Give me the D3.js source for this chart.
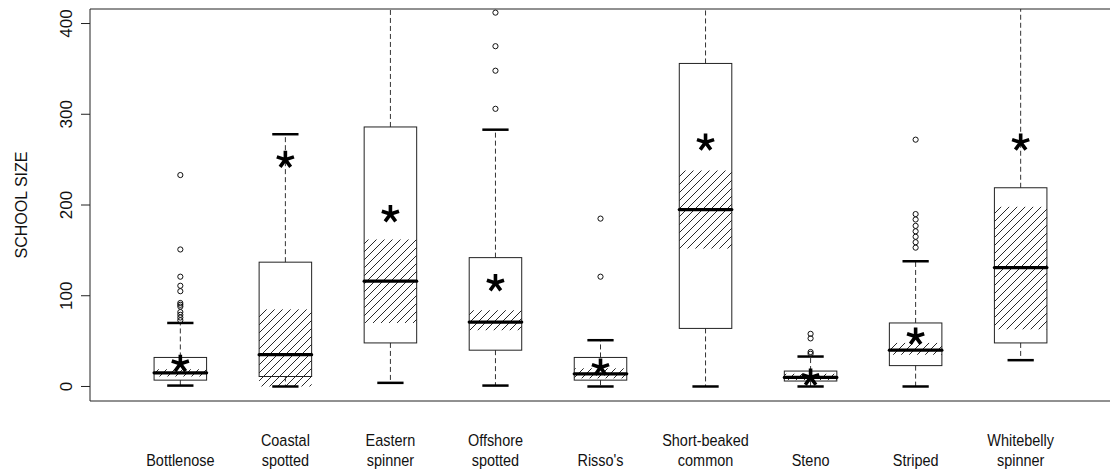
<!DOCTYPE html>
<html>
<head>
<meta charset="utf-8">
<script src="https://cdn.jsdelivr.net/npm/d3@7"></script>
<style>
  html, body { margin: 0; padding: 0; background: #fff; }
  svg { display: block; font-family: "Liberation Sans", Arial, Helvetica, sans-serif; }
</style>
</head>
<body>
<svg id="chart" width="1110" height="472"></svg>
<script>
// Dolphin school sizes by species: box statistics, hatched interval, mean and outliers
const categories = ["Bottlenose", "Coastal\nspotted", "Eastern\nspinner", "Offshore\nspotted",
  "Risso's", "Short-beaked\ncommon", "Steno", "Striped", "Whitebelly\nspinner"];
const lowerWhisker = [1, 0, 4, 1, 0, 0, 0, 0, 29];
const q1 = [7, 11, 48, 40, 7, 64, 6, 23, 48];
const median = [15, 35, 116, 71, 14, 195, 10, 40, 131];
const q3 = [32, 137, 286, 142, 32, 356, 17, 70, 219];
const upperWhisker = [70, 278, 460, 283, 51, 480, 33, 138, 470];
const hatchLow = [11, 0, 70, 62, 9, 152, 7, 35, 63];
const hatchHigh = [19, 85, 162, 84, 20, 238, 14, 48, 198];
const means = [25, 250, 190, 114, 21, 269, 10, 55, 269];
const outliers = [
  [233, 151, 121, 111, 105, 92, 90, 88, 82, 79, 76, 73],
  [],
  [],
  [412, 375, 348, 306],
  [185, 121],
  [],
  [58, 53, 38, 36],
  [272, 190, 184, 177, 171, 165, 159, 153],
  []
];
const yTicks = [0, 100, 200, 300, 400];
const yTitle = "SCHOOL SIZE";

const svg = d3.select("#chart");
const plot = { left: 90, right: 1111, top: 9, bottom: 401 };

const x = d3.scaleLinear().domain([0.14, categories.length + 0.86]).range([plot.left, plot.right]);
const y = d3.scaleLinear().domain([-16, 416]).range([plot.bottom, plot.top]);
const boxW = (x(2) - x(1)) * 0.5;
const capW = boxW / 2;

// hatching pattern
const defs = svg.append("defs");
const hs = 8;
defs.append("pattern")
  .attr("id", "hatch")
  .attr("patternUnits", "userSpaceOnUse")
  .attr("width", hs).attr("height", hs)
  .append("path")
  .attr("d", `M-1,1 l2,-2 M0,${hs} l${hs},-${hs} M${hs - 1},${hs + 1} l2,-2`)
  .attr("stroke", "#111").attr("stroke-width", 0.9);

defs.append("clipPath").attr("id", "plotclip")
  .append("rect")
  .attr("x", plot.left).attr("y", plot.top)
  .attr("width", plot.right - plot.left).attr("height", plot.bottom - plot.top);

const g = svg.append("g").attr("clip-path", "url(#plotclip)");
const idx = d3.range(categories.length);
const cx = i => x(i + 1);

// hatched interval
g.selectAll("rect.hatch").data(idx).join("rect")
  .attr("class", "hatch")
  .attr("x", i => cx(i) - boxW / 2)
  .attr("width", boxW)
  .attr("y", i => y(hatchHigh[i]))
  .attr("height", i => y(hatchLow[i]) - y(hatchHigh[i]))
  .attr("fill", "url(#hatch)");

// whiskers
const dash = "5,3";
g.selectAll("line.wup").data(idx).join("line")
  .attr("x1", cx).attr("x2", cx)
  .attr("y1", i => y(q3[i])).attr("y2", i => y(upperWhisker[i]))
  .attr("stroke", "#333").attr("stroke-width", 1).attr("stroke-dasharray", dash);
g.selectAll("line.wlo").data(idx).join("line")
  .attr("x1", cx).attr("x2", cx)
  .attr("y1", i => y(q1[i])).attr("y2", i => y(lowerWhisker[i]))
  .attr("stroke", "#333").attr("stroke-width", 1).attr("stroke-dasharray", dash);

// staples
[upperWhisker, lowerWhisker].forEach(arr => {
  g.append("g").selectAll("line").data(idx).join("line")
    .attr("x1", i => cx(i) - capW / 2).attr("x2", i => cx(i) + capW / 2)
    .attr("y1", i => y(arr[i])).attr("y2", i => y(arr[i]))
    .attr("stroke", "#000").attr("stroke-width", 2.5);
});

// boxes
g.selectAll("rect.box").data(idx).join("rect")
  .attr("class", "box")
  .attr("x", i => cx(i) - boxW / 2)
  .attr("width", boxW)
  .attr("y", i => y(q3[i]))
  .attr("height", i => y(q1[i]) - y(q3[i]))
  .attr("fill", "none").attr("stroke", "#222").attr("stroke-width", 1);

// medians
g.selectAll("line.med").data(idx).join("line")
  .attr("x1", i => cx(i) - boxW / 2).attr("x2", i => cx(i) + boxW / 2)
  .attr("y1", i => y(median[i])).attr("y2", i => y(median[i]))
  .attr("stroke", "#000").attr("stroke-width", 3.2).attr("stroke-linecap", "round");

// outliers
const pts = idx.flatMap(i => outliers[i].map(v => ({ i, v })));
g.selectAll("circle").data(pts).join("circle")
  .attr("cx", d => cx(d.i)).attr("cy", d => y(d.v)).attr("r", 2.6)
  .attr("fill", "none").attr("stroke", "#111").attr("stroke-width", 1);

// means as five-armed asterisks
const armLen = 9;
function asteriskPath(px, py) {
  let d = "";
  for (let k = 0; k < 5; k++) {
    const a = (-90 + 72 * k) * Math.PI / 180;
    d += `M${px},${py}L${px + armLen * Math.cos(a)},${py + armLen * Math.sin(a)}`;
  }
  return d;
}
g.selectAll("path.mean").data(idx).join("path")
  .attr("d", i => asteriskPath(cx(i), y(means[i])))
  .attr("stroke", "#000").attr("stroke-width", 3.6).attr("fill", "none");

// frame (open on the right)
svg.append("path")
  .attr("d", `M${plot.right},${plot.top}H${plot.left}V${plot.bottom}H${plot.right}`)
  .attr("fill", "none").attr("stroke", "#222").attr("stroke-width", 1);

// y axis ticks and labels
const ya = svg.append("g");
ya.selectAll("line").data(yTicks).join("line")
  .attr("x1", plot.left - 9).attr("x2", plot.left)
  .attr("y1", d => y(d)).attr("y2", d => y(d))
  .attr("stroke", "#222").attr("stroke-width", 1);
ya.selectAll("text").data(yTicks).join("text")
  .attr("transform", d => `translate(72,${y(d)}) rotate(-90)`)
  .attr("text-anchor", "middle")
  .attr("font-size", 17)
  .attr("fill", "#111")
  .text(d => d);

svg.append("text")
  .attr("transform", `translate(27,${(plot.top + plot.bottom) / 2}) rotate(-90)`)
  .attr("text-anchor", "middle")
  .attr("font-size", 16)
  .attr("fill", "#111")
  .text(yTitle);

// category labels
const lab = svg.append("g");
idx.forEach(i => {
  const lines = categories[i].split("\n");
  lines.forEach((t, k) => {
    const base = 466 - (lines.length - 1 - k) * 20;
    lab.append("text")
      .attr("transform", `translate(${cx(i)},${base}) scale(0.85,1)`)
      .attr("text-anchor", "middle")
      .attr("font-size", 17)
      .attr("fill", "#111")
      .text(t);
  });
});
</script>
</body>
</html>
